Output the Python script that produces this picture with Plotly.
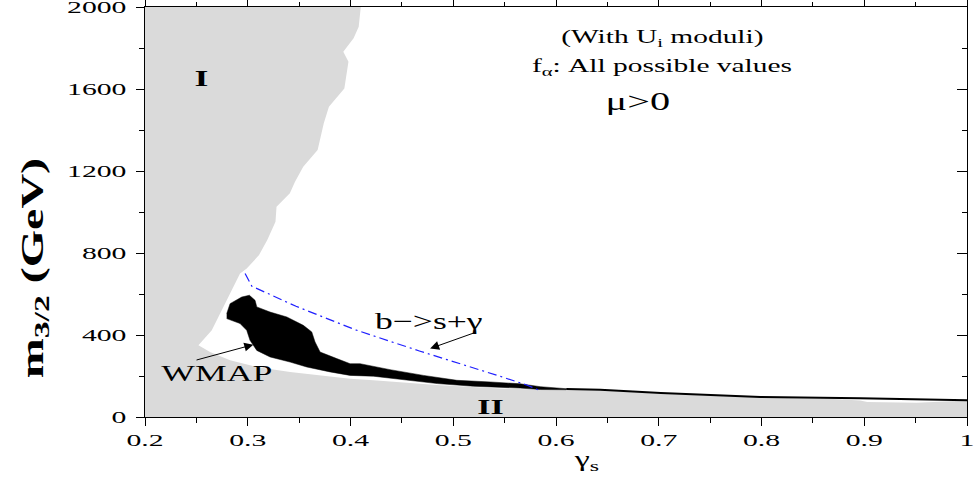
import plotly.graph_objects as go

# Excluded parameter space (regions I and II), outline in (gamma_s, m_3/2 [GeV])
excl_gamma = [0.2, 0.2, 0.410, 0.408, 0.403, 0.393, 0.398, 0.394, 0.379, 0.374,
              0.368, 0.354, 0.346, 0.341, 0.328, 0.327, 0.319, 0.311, 0.299, 0.2925,
              0.2828, 0.273, 0.265, 0.252, 0.2633, 0.2828, 0.3088, 0.3412, 0.3736,
              0.3996, 0.4223, 0.4872, 0.5456, 0.578, 0.643, 0.701, 0.799, 0.87,
              0.896, 0.903, 0.951, 1.0, 1.0]
excl_m32 = [0, 2000, 2000, 1904, 1847, 1782, 1733, 1603, 1514, 1433,
            1302, 1221, 1148, 1091, 1026, 953, 863, 790, 724, 700,
            602, 504, 423, 350, 317, 277, 244, 220, 203,
            187, 179, 155, 139, 134, 130, 114, 95, 88,
            81, 73, 70, 81, 0]

# WMAP-allowed band
wmap_gamma = [0.2795, 0.2828, 0.2941, 0.3016, 0.3071, 0.3088, 0.3217, 0.3380, 0.3541,
              0.3623, 0.3655, 0.3704, 0.3866, 0.3996, 0.4093, 0.4385, 0.4710, 0.5035,
              0.5359, 0.5651, 0.5846, 0.61,
              0.61, 0.5846, 0.5651, 0.5359, 0.5197, 0.4846, 0.4548, 0.4223, 0.3996,
              0.3801, 0.3574, 0.3412, 0.3217, 0.3088, 0.3022, 0.2990, 0.2925, 0.2844,
              0.2795]
wmap_m32 = [504, 553, 585, 594, 569, 537, 512, 488, 447,
            415, 366, 317, 285, 260, 260, 231, 203, 179,
            171, 162, 148, 138,
            133, 134, 141, 147, 150, 163, 179, 199, 203,
            220, 244, 268, 293, 325, 374, 423, 456, 472,
            480]

# Thin continuation of the band towards gamma_s = 1
edge_gamma = [0.61, 0.643, 0.702, 0.799, 0.896, 1.0]
edge_m32 = [136, 133, 117, 98, 91, 82]

# b -> s + gamma bound
bsg_gamma = [0.2974, 0.304, 0.347, 0.405, 0.467, 0.523, 0.546, 0.572, 0.585]
bsg_m32 = [700, 638, 540, 425, 322, 236, 198, 155, 128]

x_ticks = [0.2, 0.3, 0.4, 0.5, 0.6, 0.7, 0.8, 0.9, 1.0]
x_labels = ["0.2", "0.3", "0.4", "0.5", "0.6", "0.7", "0.8", "0.9", "1"]
y_ticks = [0, 400, 800, 1200, 1600, 2000]
y_labels = ["0", "400", "800", "1200", "1600", "2000"]

SERIF = "Liberation Serif, Times New Roman, serif"
GREY = "#dadada"

fig = go.Figure()

fig.add_trace(go.Scatter(x=excl_gamma, y=excl_m32, fill="toself", fillcolor=GREY,
                         mode="lines", line=dict(width=0), hoverinfo="skip"))
fig.add_trace(go.Scatter(x=wmap_gamma, y=wmap_m32, fill="toself", fillcolor="black",
                         mode="lines", line=dict(width=0.5, color="black"),
                         hoverinfo="skip"))
fig.add_trace(go.Scatter(x=edge_gamma, y=edge_m32, mode="lines",
                         line=dict(width=2, color="black"), hoverinfo="skip"))
fig.add_trace(go.Scatter(x=bsg_gamma, y=bsg_m32, mode="lines",
                         line=dict(width=1.2, color="#1f1fff", dash="9px,4px,2px,4px"),
                         hoverinfo="skip"))
# carriers for the mirrored top and right axes
fig.add_trace(go.Scatter(x=[x_ticks[0]], y=[y_ticks[0]], xaxis="x2", yaxis="y",
                         mode="markers", marker=dict(opacity=0), hoverinfo="skip"))
fig.add_trace(go.Scatter(x=[x_ticks[0]], y=[y_ticks[0]], xaxis="x", yaxis="y2",
                         mode="markers", marker=dict(opacity=0), hoverinfo="skip"))

tickfont = dict(family=SERIF, size=17, color="black")
axis_common = dict(showgrid=False, zeroline=False, showline=True, linecolor="black",
                   linewidth=1.2, tickcolor="black", tickwidth=1, automargin=False)

fig.update_layout(
    width=976, height=478,
    margin=dict(l=145, r=9, t=7, b=61),
    paper_bgcolor="white", plot_bgcolor="white",
    showlegend=False,
    font=dict(family=SERIF, color="black"),
    xaxis=dict(range=[0.2, 1.0], tickmode="array", tickvals=x_ticks, ticktext=x_labels,
               ticks="outside", ticklen=8, tickfont=tickfont, ticklabeloverflow="allow",
               minor=dict(dtick=0.05, tick0=0.2, ticks="outside", ticklen=5,
                          tickcolor="black", showgrid=False),
               **axis_common),
    yaxis=dict(range=[0, 2000], tickmode="array", tickvals=y_ticks, ticktext=y_labels,
               ticks="outside", ticklen=8, tickfont=tickfont, ticklabelstandoff=6,
               ticklabeloverflow="allow",
               minor=dict(dtick=200, tick0=0, ticks="outside", ticklen=5,
                          tickcolor="black", showgrid=False),
               **axis_common),
    xaxis2=dict(range=[0.2, 1.0], overlaying="x", side="top", anchor="y",
                tickmode="array", tickvals=x_ticks, showticklabels=False,
                ticks="outside", ticklen=6,
                minor=dict(dtick=0.05, tick0=0.2, ticks="outside", ticklen=4,
                           tickcolor="black", showgrid=False),
                **axis_common),
    yaxis2=dict(range=[0, 2000], overlaying="y", side="right", anchor="x",
                tickmode="array", tickvals=y_ticks, showticklabels=False,
                ticks="inside", ticklen=10,
                minor=dict(dtick=200, tick0=0, ticks="inside", ticklen=5,
                           tickcolor="black", showgrid=False),
                **axis_common),
)

def label(text, x, y, size, **kw):
    fig.add_annotation(text=text, x=x, y=y, showarrow=False,
                       font=dict(family=SERIF, size=size, color="black"),
                       xanchor="center", yanchor="middle", **kw)

label("<b>I</b>", 0.2552, 1651, 23)
label("<b>II</b>", 0.5359, 52, 22)
label("(With U<sub>i</sub> moduli)", 0.7034, 1848, 19)
label("f<sub>α</sub>: All possible values", 0.7034, 1708, 19)
label("μ>0", 0.680, 1540, 26)
label("WMAP", 0.2705, 210, 23)
label("b−>s+γ", 0.4765, 468, 23)

# axis titles
label("γ<sub>s</sub>", 0.630, -0.105, 22, yref="paper")
label("<b>m<sub>3/2</sub> (GeV)</b>", -0.1338, 0.363, 31, xref="paper", yref="paper",
      textangle=-90)

# pointer arrows
def arrow(x_tail, y_tail, x_tip, y_tip):
    fig.add_annotation(text="", x=x_tip, y=y_tip, ax=x_tail, ay=y_tail,
                       axref="x", ayref="y", showarrow=True, arrowhead=2,
                       arrowsize=1.8, arrowwidth=1, arrowcolor="black", standoff=0)

arrow(0.2487, 276, 0.3054, 353)
arrow(0.5229, 415, 0.4775, 334)

# Serif lettering is set wide: stretch every text run along its baseline
stretch_js = """
var gd = document.getElementById('{plot_id}');
function widen() {
  gd.querySelectorAll('text').forEach(function (t) {
    var cur = t.getAttribute('transform') || '';
    if (t.dataset.wide === cur) return;
    var tick = t.closest('.xtick, .ytick');
    var s = tick ? 1.75 : 1.55;
    var ax = parseFloat(t.getAttribute('x')) || 0;
    var nt = cur + ' translate(' + ax + ',0) scale(' + s + ',1) translate(' + (-ax) + ',0)';
    t.setAttribute('transform', nt);
    t.dataset.wide = nt;
  });
}
widen();
gd.on('plotly_afterplot', widen);
"""

fig.write_html("out.html", config={"displayModeBar": False}, post_script=stretch_js)
